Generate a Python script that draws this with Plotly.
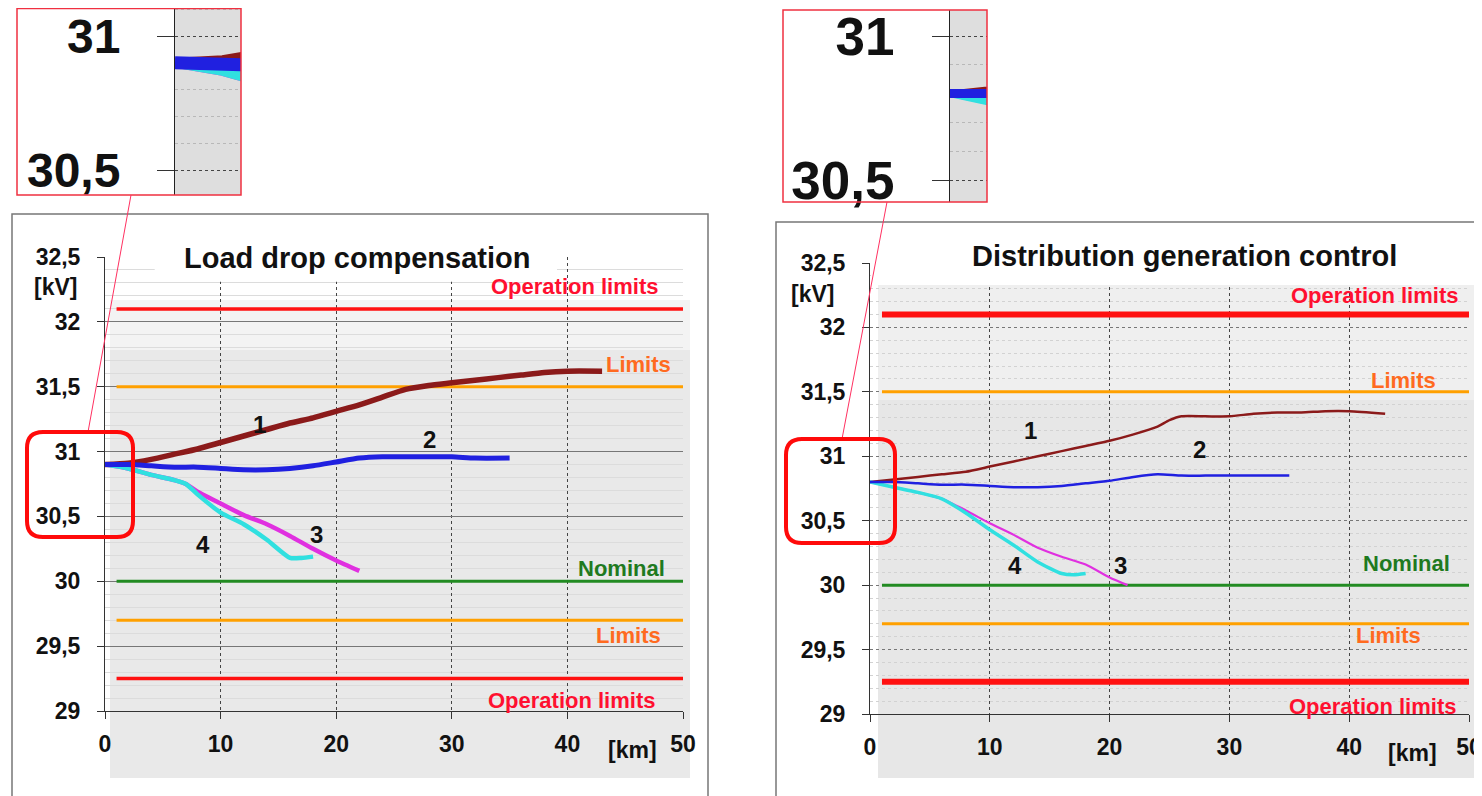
import plotly.graph_objects as go

W, H = 1482, 796
OFF = 8  # page body margin: figure starts 8px right/down of window origin

# ---------------- data ----------------
# Load drop compensation (left)
ld_km_1 = [0, 2, 4, 6, 8, 10, 12, 14, 16, 18, 20, 22, 24, 26, 28, 30, 32, 34, 36, 38, 40, 43]
ld_kv_1 = [30.90, 30.91, 30.94, 30.98, 31.02, 31.07, 31.12, 31.17, 31.22, 31.26, 31.31, 31.36,
           31.42, 31.48, 31.51, 31.53, 31.55, 31.57, 31.59, 31.61, 31.62, 31.62]
ld_km_2 = [0, 2, 4, 6, 8, 10, 12, 14, 16, 18, 20, 22, 24, 26, 28, 30, 32, 35]
ld_kv_2 = [30.90, 30.90, 30.89, 30.88, 30.88, 30.87, 30.86, 30.86, 30.87, 30.89, 30.92, 30.95,
           30.96, 30.96, 30.96, 30.96, 30.95, 30.95]
ld_km_3 = [0, 2, 4, 6, 7, 8, 10, 12, 14, 16, 18, 20, 22]
ld_kv_3 = [30.90, 30.87, 30.82, 30.78, 30.75, 30.69, 30.60, 30.51, 30.44, 30.35, 30.25, 30.16, 30.08]
ld_km_4 = [0, 2, 4, 6, 7, 8, 10, 12, 14, 16, 17, 18]
ld_kv_4 = [30.90, 30.87, 30.82, 30.78, 30.75, 30.67, 30.53, 30.44, 30.32, 30.18, 30.18, 30.19]

# Distribution generation control (right)
dg_km_1 = [0, 2, 4, 6, 8, 10, 12, 14, 16, 18, 20, 22, 24, 25, 26, 28, 30, 32, 34, 36, 38, 40, 43]
dg_kv_1 = [30.80, 30.82, 30.84, 30.86, 30.88, 30.92, 30.96, 31.00, 31.04, 31.08, 31.12, 31.17,
           31.23, 31.28, 31.31, 31.31, 31.31, 31.33, 31.34, 31.34, 31.35, 31.35, 31.33]
dg_km_2 = [0, 2, 4, 6, 8, 10, 12, 14, 16, 18, 20, 22, 24, 26, 28, 30, 32, 35]
dg_kv_2 = [30.80, 30.80, 30.79, 30.78, 30.78, 30.77, 30.76, 30.76, 30.77, 30.79, 30.81, 30.84,
           30.86, 30.85, 30.85, 30.85, 30.85, 30.85]
dg_km_3 = [0, 2, 4, 6, 8, 10, 12, 14, 16, 18, 20, 21.5]
dg_kv_3 = [30.80, 30.76, 30.72, 30.67, 30.58, 30.48, 30.39, 30.29, 30.22, 30.16, 30.06, 30.00]
dg_km_4 = [0, 2, 4, 6, 8, 10, 12, 14, 16, 17, 18]
dg_kv_4 = [30.80, 30.76, 30.72, 30.67, 30.56, 30.43, 30.31, 30.18, 30.09, 30.08, 30.09]

ref_levels = [32.1, 31.5, 30.0, 29.7, 29.25]
ref_names = ["Operation limits", "Limits", "Nominal", "Limits", "Operation limits"]
ref_km = [1, 50]

curve_labels = ["1", "2", "3", "4"]
ld_label_pos = [(13.4, 31.21), (28.1, 31.09), (18.3, 30.36), (8.5, 30.28)]
dg_label_pos = [(13.4, 31.20), (27.5, 31.05), (20.9, 30.15), (12.1, 30.15)]
ld_ref_label_pos = [(48.0, 32.27), (49.1, 31.67), (48.6, 30.10), (48.3, 29.58), (47.75, 29.08)]
dg_ref_label_pos = [(49.25, 32.25), (47.4, 31.59), (48.6, 30.17), (46.2, 29.61), (49.1, 29.06)]

y_ticks = [29, 29.5, 30, 30.5, 31, 31.5, 32, 32.5]
y_tick_labels = ["29", "29,5", "30", "30,5", "31", "31,5", "32", "32,5"]
x_ticks = [0, 10, 20, 30, 40, 50]
x_tick_labels = ["0", "10", "20", "30", "40", "50"]
inset_ticks = [30.5, 31]
inset_tick_labels = ["30,5", "31"]

titles = ["Load drop compensation", "Distribution generation control"]

# ---------------- style ----------------
FONT = "Liberation Sans, Arial, sans-serif"
BROWN, BLUE, CYAN, MAGENTA = "#8b1a1a", "#2020e0", "#30e0e0", "#e030e0"
REF_LINE_COLORS = ["#ff1010", "#ffa000", "#228b22", "#ffa000", "#ff1010"]
REF_TEXT_COLORS = ["#ff1030", "#ff6a20", "#1f7a1f", "#ff6a20", "#ff1030"]


def px(x):
    return min(max((x - OFF) / W, 0.0), 1.0)


def py(y):
    return min(max(1 - (y - OFF) / H, 0.0), 1.0)


fig = go.Figure()

panels = [
    dict(xa="x", ya="y", km=[ld_km_1, ld_km_2, ld_km_3, ld_km_4],
         kv=[ld_kv_1, ld_kv_2, ld_kv_3, ld_kv_4], cw=[5.5, 5, 4.5, 4.5], refw=[3.5, 3, 3, 3, 3.5],
         lab=ld_label_pos, rlab=ld_ref_label_pos),
    dict(xa="x2", ya="y2", km=[dg_km_1, dg_km_2, dg_km_3, dg_km_4],
         kv=[dg_kv_1, dg_kv_2, dg_kv_3, dg_kv_4], cw=[2.5, 2.5, 2.2, 3.5], refw=[6, 3, 3, 3, 6],
         lab=dg_label_pos, rlab=dg_ref_label_pos),
]
colors = [BROWN, BLUE, MAGENTA, CYAN]
draw_order = [0, 2, 3, 1]  # brown, magenta, cyan, blue on top

for p in panels:
    for lvl, col, w in zip(ref_levels, REF_LINE_COLORS, p["refw"]):
        fig.add_trace(go.Scatter(x=ref_km, y=[lvl, lvl], mode="lines",
                                 line=dict(color=col, width=w), xaxis=p["xa"], yaxis=p["ya"],
                                 showlegend=False, hoverinfo="skip"))
    for i in draw_order:
        fig.add_trace(go.Scatter(x=p["km"][i], y=p["kv"][i], mode="lines",
                                 line=dict(color=colors[i], width=p["cw"][i], shape="spline",
                                           smoothing=0.6),
                                 xaxis=p["xa"], yaxis=p["ya"], showlegend=False))
    for (lx, ly), t in zip(p["lab"], curve_labels):
        fig.add_annotation(x=lx, y=ly, xref=p["xa"], yref=p["ya"], text=t, showarrow=False,
                           xanchor="center", yanchor="middle",
                           font=dict(family=FONT, size=24, color="#111", weight="bold"))
    for (lx, ly), t, c in zip(p["rlab"], ref_names, REF_TEXT_COLORS):
        fig.add_annotation(x=lx, y=ly, xref=p["xa"], yref=p["ya"], text=t, showarrow=False,
                           xanchor="right", yanchor="middle",
                           font=dict(family=FONT, size=22, color=c, weight="bold"))

# insets: same data, zoomed
insets = [
    dict(xa="x3", ya="y3", km=[ld_km_1, ld_km_2, ld_km_3, ld_km_4],
         kv=[ld_kv_1, ld_kv_2, ld_kv_3, ld_kv_4], cw=[10, 13, 10, 10]),
    dict(xa="x4", ya="y4", km=[dg_km_1, dg_km_2, dg_km_3, dg_km_4],
         kv=[dg_kv_1, dg_kv_2, dg_kv_3, dg_kv_4], cw=[6, 9, 6, 7]),
]
for p in insets:
    for i in draw_order:
        fig.add_trace(go.Scatter(x=p["km"][i], y=p["kv"][i], mode="lines",
                                 line=dict(color=colors[i], width=p["cw"][i]),
                                 xaxis=p["xa"], yaxis=p["ya"], showlegend=False,
                                 hoverinfo="skip"))

tickfont = dict(family=FONT, size=23, color="#111", weight="bold")


def main_x(domain, anchor):
    return dict(domain=domain, anchor=anchor, range=[0, 50], tickmode="array", tickvals=x_ticks,
                ticktext=x_tick_labels, showline=True, linecolor="#333", linewidth=1,
                ticks="outside", ticklen=7, tickcolor="#333", tickfont=tickfont,
                ticklabelstandoff=5, showgrid=True, gridcolor="#444", griddash="dot",
                gridwidth=1, zeroline=False, fixedrange=True, automargin=False)


def main_y(domain, anchor, hdash, minorcol):
    return dict(domain=domain, anchor=anchor, range=[29, 32.5], tickmode="array",
                tickvals=y_ticks, ticktext=y_tick_labels, showline=True, linecolor="#333",
                linewidth=1, ticks="outside", ticklen=7, tickcolor="#333", tickfont=tickfont,
                ticklabelstandoff=12, showgrid=True, gridcolor="#777", griddash=hdash,
                gridwidth=1, zeroline=False, fixedrange=True, automargin=False,
                minor=dict(tickmode="linear", tick0=29, dtick=0.1, showgrid=True,
                           gridcolor=minorcol, gridwidth=1))


def inset_y(domain, anchor, rng, size, standoff):
    return dict(domain=domain, anchor=anchor, range=rng, tickmode="array",
                tickvals=inset_ticks, ticktext=inset_tick_labels, showline=True,
                linecolor="#222", linewidth=1, ticks="outside", ticklen=17, tickcolor="#333",
                tickfont=dict(family=FONT, size=size, color="#111", weight="bold"),
                ticklabelstandoff=standoff, ticklabeloverflow="allow", showgrid=True,
                gridcolor="#444", griddash="dot",
                zeroline=False, fixedrange=True, automargin=False,
                minor=dict(tickmode="linear", tick0=29, dtick=0.1, showgrid=True,
                           gridcolor="#b8b8b8", gridwidth=1))


def inset_x(domain, anchor, rng):
    return dict(domain=domain, anchor=anchor, range=rng, visible=False, fixedrange=True,
                automargin=False)


shapes = []


def rect_px(x0, y0, x1, y1, fill=None, line=None, lw=1, layer="below"):
    d = dict(type="rect", xref="paper", yref="paper", x0=px(x0), x1=px(x1), y0=py(y1),
             y1=py(y0), layer=layer, line=dict(width=0))
    if fill:
        d["fillcolor"] = fill
    if line:
        d["line"] = dict(color=line, width=lw)
    shapes.append(d)


# backgrounds
rect_px(110, 300, 690, 350, fill="#f3f3f3")
rect_px(110, 350, 690, 778, fill="#e9e9e9")
rect_px(878, 285, 1478, 400, fill="#efefef")
rect_px(878, 400, 1478, 778, fill="#e7e7e7")
rect_px(175, 8, 241, 195, fill="#dedede")
rect_px(950, 10, 987, 202, fill="#dedede")

# white areas at top of plots (gridlines start lower there)
shapes.append(dict(type="rect", xref="x", yref="y", x0=4.3, x1=39.1, y0=32.31, y1=32.5,
                   fillcolor="white", line=dict(width=0), layer="above"))
shapes.append(dict(type="rect", xref="x2", yref="y2", x0=0.08, x1=50.2, y0=32.33, y1=32.52,
                   fillcolor="white", line=dict(width=0), layer="above"))

# panel frames
rect_px(12, 214, 708, 805, line="#777", lw=1.5, layer="above")
rect_px(776, 222, 1481, 805, line="#777", lw=1.5, layer="above")

# inset frames
rect_px(17, 8.5, 241, 195, line="#f03040", lw=1.5, layer="above")
rect_px(783, 10, 987, 202, line="#f03040", lw=1.5, layer="above")

# connector lines
shapes.append(dict(type="line", xref="paper", yref="paper", x0=px(131), y0=py(195),
                   x1=px(88), y1=py(432), line=dict(color="#ff3060", width=1), layer="above"))
shapes.append(dict(type="line", xref="paper", yref="paper", x0=px(887), y0=py(202),
                   x1=px(842), y1=py(439), line=dict(color="#ff3060", width=1), layer="above"))


def rounded(x0, y0, x1, y1, r):
    pts = [("M", [(x0 + r, y0)]), ("L", [(x1 - r, y0)]), ("Q", [(x1, y0), (x1, y0 + r)]),
           ("L", [(x1, y1 - r)]), ("Q", [(x1, y1), (x1 - r, y1)]), ("L", [(x0 + r, y1)]),
           ("Q", [(x0, y1), (x0, y1 - r)]), ("L", [(x0, y0 + r)]), ("Q", [(x0, y0), (x0 + r, y0)])]
    s = ""
    for cmd, ps in pts:
        s += cmd + " " + " ".join(f"{px(a):.5f},{py(b):.5f}" for a, b in ps) + " "
    return s + "Z"


shapes.append(dict(type="path", xref="paper", yref="paper", path=rounded(27, 432, 133, 537, 16),
                   line=dict(color="#ff0a0a", width=4), layer="above"))
shapes.append(dict(type="path", xref="paper", yref="paper", path=rounded(786, 439, 895, 543, 16),
                   line=dict(color="#ff0a0a", width=4), layer="above"))

# titles
fig.add_annotation(x=px(357), y=py(258), xref="paper", yref="paper", text=titles[0],
                   showarrow=False, bgcolor="white", borderpad=3, xanchor="center",
                   yanchor="middle",
                   font=dict(family=FONT, size=29, color="#111", weight="bold"))
fig.add_annotation(x=px(1184), y=py(256), xref="paper", yref="paper", text=titles[1],
                   showarrow=False, xanchor="center", yanchor="middle",
                   font=dict(family=FONT, size=29, color="#111", weight="bold"))
# units
for (ux, uy, t) in [(55, 287, "[kV]"), (812, 294, "[kV]"), (632, 750, "[km]"),
                    (1412, 753, "[km]")]:
    fig.add_annotation(x=px(ux), y=py(uy), xref="paper", yref="paper", text=t,
                       showarrow=False, xanchor="center", yanchor="middle",
                       font=dict(family=FONT, size=23, color="#111", weight="bold"))

fig.update_layout(
    width=W, height=H, margin=dict(l=0, r=0, t=0, b=0, autoexpand=False),
    paper_bgcolor="white", plot_bgcolor="rgba(0,0,0,0)", showlegend=False,
    xaxis=main_x([px(105), px(683)], "y"),
    yaxis=main_y([py(711), py(257)], "x", "solid", "#dcdcdc"),
    xaxis2=main_x([px(870), px(1469)], "y2"),
    yaxis2=main_y([py(714), py(263)], "x2", "dot", "#d2d2d2"),
    xaxis3=inset_x([px(175), px(241)], "y3", [0, 2.77]),
    yaxis3=inset_y([py(195), py(8)], "x3", [30.4067, 31.1045], 48, 27),
    xaxis4=inset_x([px(950), px(987)], "y4", [0, 1.38]),
    yaxis4=inset_y([py(202), py(10)], "x4", [30.4236, 31.0903], 53, 27),
    shapes=shapes,
)

fig.write_html("out.html")
